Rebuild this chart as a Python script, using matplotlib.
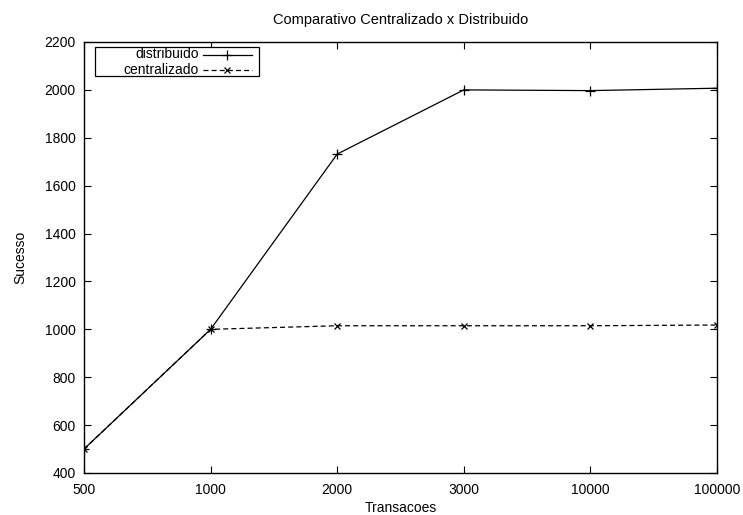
import matplotlib.pyplot as plt
from matplotlib.lines import Line2D
from matplotlib.patches import Rectangle

# data
transacoes = ["500", "1000", "2000", "3000", "10000", "100000"]
distribuido = [500, 1000, 1732, 2000, 1997, 2007]
centralizado = [500, 1000, 1015, 1015, 1015, 1018]

plt.rcParams.update({
    "font.family": "Liberation Sans",
    "font.size": 10,
    "axes.linewidth": 1.0,
    "xtick.direction": "in",
    "ytick.direction": "in",
    "xtick.top": True,
    "ytick.right": True,
    "xtick.major.size": 5,
    "ytick.major.size": 5,
})

W, H = 743, 515
fig = plt.figure(figsize=(W / 100, H / 100), dpi=100)
ax = fig.add_axes([84 / W, 42 / H, 633 / W, 431 / H])

dist_style = dict(color="black", linewidth=0.9, marker="+",
                  markersize=7, markeredgewidth=0.9)
cent_style = dict(color="black", linewidth=0.9, linestyle=(0, (4, 2.5)),
                  marker="x", markersize=5, markeredgewidth=0.9)

x = list(range(len(transacoes)))
ax.plot(x, distribuido, **dist_style)
ax.plot(x, centralizado, **cent_style)

ax.set_xlim(0, len(transacoes) - 1)
ax.set_ylim(400, 2200)
ax.set_xticks(x)
ax.set_xticklabels(transacoes)
ax.set_yticks(range(400, 2201, 200))
ax.tick_params(axis="x", pad=7)
ax.tick_params(axis="y", pad=6)

ax.set_title("Comparativo Centralizado x Distribuido", fontsize=10.5, pad=13)
ax.set_xlabel("Transacoes", labelpad=3)
ax.set_ylabel("Sucesso", labelpad=12)


# gnuplot-style key: label right-aligned, sample on its right
def px(xp, yp):
    return xp / W, 1 - yp / H


tr = fig.transFigure
x0, y0 = px(95, 76)
x1, y1 = px(259, 47)
fig.add_artist(Rectangle((x0, y0), x1 - x0, y1 - y0, transform=tr,
                         facecolor="white", edgecolor="black",
                         linewidth=0.9, zorder=5))
for (label, style, yp) in [("distribuido", dist_style, 54.5),
                           ("centralizado", cent_style, 69.5)]:
    tx, ty = px(199, yp)
    fig.text(tx, ty, label, ha="right", va="center", zorder=6)
    lx0, ly = px(203, yp)
    lx1, _ = px(252, yp)
    st = dict(style)
    st.pop("marker")
    fig.add_artist(Line2D([lx0, lx1], [ly, ly], transform=tr, zorder=6,
                          **{k: v for k, v in st.items()
                             if not k.startswith("marker")}))
    fig.add_artist(Line2D([(lx0 + lx1) / 2], [ly], transform=tr, zorder=6,
                          linestyle="none", color="black",
                          marker=style["marker"],
                          markersize=style["markersize"],
                          markeredgewidth=style["markeredgewidth"]))

fig.savefig("out.png", dpi=100)
